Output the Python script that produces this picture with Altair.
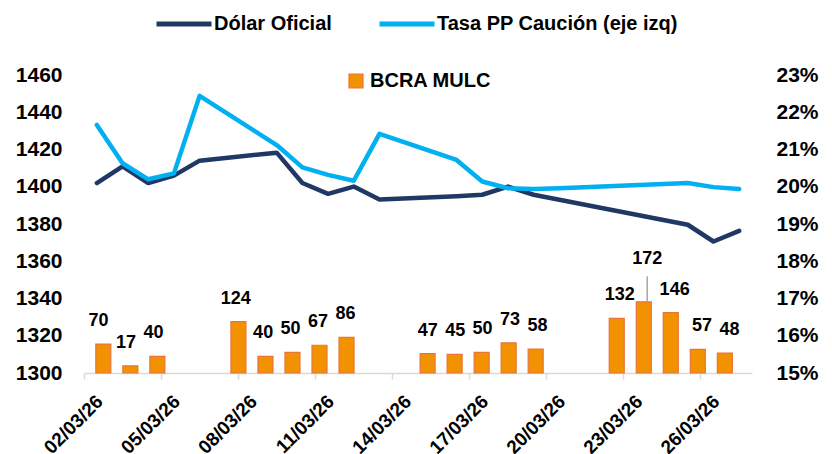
import altair as alt
import pandas as pd

FONT = "Liberation Sans"

# Category axis (calendar days) and tick labels
fechas_eje = ["02/03/26", "03/03/26", "04/03/26", "05/03/26", "06/03/26", "07/03/26",
              "08/03/26", "09/03/26", "10/03/26", "11/03/26", "12/03/26", "13/03/26",
              "14/03/26", "15/03/26", "16/03/26", "17/03/26", "18/03/26", "19/03/26",
              "20/03/26", "21/03/26", "22/03/26", "23/03/26", "24/03/26", "25/03/26",
              "26/03/26", "27/03/26"]
ticks_x = ["02/03/26", "05/03/26", "08/03/26", "11/03/26", "14/03/26",
           "17/03/26", "20/03/26", "23/03/26", "26/03/26"]

# Line series (business days)
fechas = ["02/03/26", "03/03/26", "04/03/26", "05/03/26", "06/03/26",
          "09/03/26", "10/03/26", "11/03/26", "12/03/26", "13/03/26",
          "16/03/26", "17/03/26", "18/03/26", "19/03/26", "20/03/26",
          "25/03/26", "26/03/26", "27/03/26"]
dolar = [1402, 1411, 1402, 1406, 1414, 1418.3, 1402, 1396.2, 1400.1, 1393.1,
         1394.9, 1395.7, 1400.1, 1395.7, 1393.0, 1379.6, 1370.6, 1376.3]
tasa = [21.66, 20.63, 20.20, 20.36, 22.44, 21.12, 20.52, 20.32, 20.16, 21.42,
        20.72, 20.14, 19.96, 19.94, 19.96, 20.10, 19.99, 19.94]

# BCRA MULC bars (secondary category axis slots)
mulc_slot = [0, 1, 2, 5, 6, 7, 8, 9, 12, 13, 14, 15, 16, 19, 20, 21, 22, 23]
mulc = [70, 17, 40, 124, 40, 50, 67, 86, 47, 45, 50, 73, 58, 132, 172, 146, 57, 48]

ticks_izq = [1300, 1320, 1340, 1360, 1380, 1400, 1420, 1440, 1460]
ticks_der = [15, 16, 17, 18, 19, 20, 21, 22, 23]

S_DOLAR = "Dólar Oficial"
S_TASA = "Tasa PP Caución (eje izq)"
S_MULC = "BCRA MULC"

df_dolar = pd.DataFrame({"fecha": fechas, "valor": dolar, "serie": S_DOLAR})
df_tasa = pd.DataFrame({"fecha": fechas, "valor": tasa, "serie": S_TASA})
df_mulc = pd.DataFrame({"slot": mulc_slot, "mulc": mulc, "serie": S_MULC})

NAVY = "#203864"
LIGHT = "#00B0F0"
ORANGE = "#F39200"
ORANGE_EDGE = "#E8743B"

color_scale = alt.Scale(domain=[S_DOLAR, S_TASA], range=[NAVY, LIGHT])
leg_lines = alt.Legend(title=None, orient="none", legendX=70, legendY=-81,
                       direction="horizontal", symbolType="stroke", symbolSize=3025,
                       symbolStrokeWidth=5, labelFont=FONT, labelFontSize=20,
                       labelFontWeight="bold", labelColor="black", labelLimit=400,
                       columnPadding=37, labelOffset=0)

x_axis = alt.Axis(values=ticks_x, bandPosition=0, labelAngle=-45, labelAlign="right",
                  labelBaseline="middle", labelFont=FONT, labelFontSize=19,
                  labelFontWeight="bold", labelColor="black", labelPadding=19,
                  labelOffset=3, ticks=True, tickSize=6, tickColor="#D9D9D9",
                  tickWidth=1.5, domainColor="#D9D9D9", domainWidth=1.5, grid=False,
                  title=None, labelOverlap=False)
x_scale = alt.Scale(type="band", domain=fechas_eje, paddingInner=0, paddingOuter=0)

dolar_line = alt.Chart(df_dolar).mark_line(
    strokeWidth=4.5, strokeCap="round", strokeJoin="round"
).encode(
    x=alt.X("fecha:O", scale=x_scale, axis=x_axis),
    y=alt.Y("valor:Q", scale=alt.Scale(domain=[1300, 1460], nice=False, zero=False),
            axis=alt.Axis(orient="left", values=ticks_izq, format="d", ticks=False,
                          domain=False, grid=False, title=None, labelFont=FONT,
                          labelFontSize=21, labelFontWeight="bold", labelColor="black",
                          labelPadding=22)),
    color=alt.Color("serie:N", scale=color_scale, legend=leg_lines),
)

tasa_line = alt.Chart(df_tasa).mark_line(
    strokeWidth=4.5, strokeCap="round", strokeJoin="round"
).encode(
    x=alt.X("fecha:O", scale=x_scale, axis=None),
    y=alt.Y("valor:Q", scale=alt.Scale(domain=[15, 23], nice=False, zero=False),
            axis=alt.Axis(orient="right", values=ticks_der, labelExpr="datum.value + '%'",
                          ticks=False, domain=False, grid=False, title=None,
                          labelFont=FONT, labelFontSize=21, labelFontWeight="bold",
                          labelColor="black", labelPadding=24, labelAlign="left")),
    color=alt.Color("serie:N", scale=color_scale, legend=leg_lines),
)

xb = alt.X("slot:Q", scale=alt.Scale(domain=[-0.53, 23.82], nice=False, zero=False), axis=None)
yb = alt.Y("mulc:Q", scale=alt.Scale(domain=[0, 720], nice=False), axis=None)

bars = alt.Chart(df_mulc).mark_bar(size=15, stroke=ORANGE_EDGE, strokeWidth=1.2, orient="vertical").encode(
    x=xb, y=yb,
    fill=alt.Fill("serie:N", scale=alt.Scale(domain=[S_MULC], range=[ORANGE]),
                  legend=alt.Legend(title=None, orient="none", legendX=262, legendY=-4,
                                    symbolType="square", symbolSize=196,
                                    symbolStrokeColor=ORANGE_EDGE, symbolStrokeWidth=1.2,
                                    labelFont=FONT, labelFontSize=20, labelFontWeight="bold",
                                    labelColor="black", labelOffset=4, labelLimit=300)),
)

labels = alt.Chart(df_mulc).transform_joinaggregate(
    mx="max(mulc)"
).transform_filter("datum.mulc < datum.mx").mark_text(
    dy=-23, font=FONT, fontSize=18, fontWeight="bold", color="black", baseline="middle"
).encode(x=xb, y=yb, text="mulc:Q")

max_label = alt.Chart(df_mulc).transform_joinaggregate(
    mx="max(mulc)"
).transform_filter("datum.mulc == datum.mx").mark_text(
    dy=-43, font=FONT, fontSize=18, fontWeight="bold", color="black", baseline="middle"
).encode(x=xb, y=yb, text="mulc:Q")

leader = alt.Chart(df_mulc).transform_joinaggregate(
    mx="max(mulc)"
).transform_filter("datum.mulc == datum.mx").transform_calculate(
    top="datum.mulc + 62"
).mark_rule(color="#A6A6A6", strokeWidth=1.5).encode(
    x=xb, y=yb, y2="top:Q"
)

chart = alt.layer(bars, labels, max_label, leader, dolar_line, tasa_line).resolve_scale(
    x="independent", y="independent"
).properties(
    width=668, height=298,
    autosize=alt.AutoSizeParams(type="none"),
    padding={"left": 76, "top": 67, "right": 72, "bottom": 81},
).configure_view(stroke=None).configure_axis(grid=False)

chart.save("out.html", embed_options={"renderer": "svg", "actions": False})
